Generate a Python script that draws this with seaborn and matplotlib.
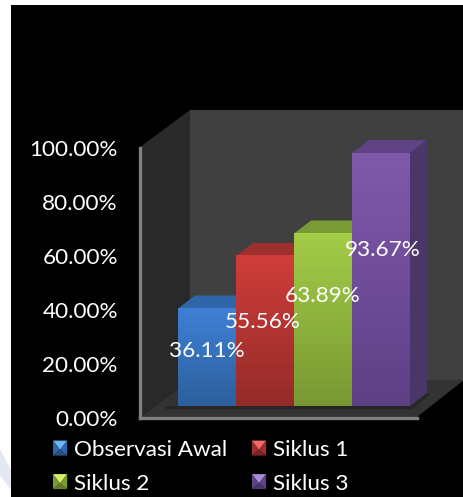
import numpy as np
import matplotlib
matplotlib.use("Agg")
import matplotlib.pyplot as plt
import seaborn as sns
from matplotlib.colors import LinearSegmentedColormap
from matplotlib.legend_handler import HandlerBase
from matplotlib.patches import Patch, Polygon, Rectangle

# --- Data ---
categories = ["Observasi Awal", "Siklus 1", "Siklus 2", "Siklus 3"]
values = [36.11, 55.56, 63.89, 93.67]
y_ticks = [0, 20, 40, 60, 80, 100]

# --- Style ---
W, H = 464, 497
FONT = "Lato"
FONT_SIZE = 16.2
top_colors = ["#3f80d6", "#d03d3a", "#a3cc48", "#8059ab"]
bottom_colors = ["#2d5f9c", "#942b29", "#789832", "#5e4085"]
roof_colors = ["#2f66a8", "#9d2f2c", "#7a9b34", "#5f4384"]
side_colors = ["#26507f", "#7c2523", "#627d2b", "#4b3669"]
light_colors = ["#6db4f2", "#f26b66", "#d8ef6a", "#a98ad6"]
label_drop = [42, 66, 63, 97]   # label centre below the bar top, px
label_shift = [0, -2, 0, 1.5]   # label centre right of the bar centre, px
DEPTH_X, DEPTH_Y = 17, 13


def px(x, y):
    return x / W, 1 - y / H


def fig_poly(fig, points, color, zorder=1):
    fig.add_artist(Polygon([px(*p) for p in points], closed=True, facecolor=color,
                           edgecolor="none", transform=fig.transFigure, zorder=zorder))


class BevelHandler(HandlerBase):
    def create_artists(self, legend, orig_handle, xdescent, ydescent, width, height, fontsize, trans):
        x0, y0 = -xdescent, -ydescent
        x1, y1 = x0 + width, y0 + height
        cx, cy = (x0 + x1) / 2, y0 + height * 0.38
        i = int(orig_handle.get_gid())
        faces = [
            ([(x0, y1), (x1, y1), (cx, cy)], light_colors[i]),
            ([(x0, y0), (x0, y1), (cx, cy)], roof_colors[i]),
            ([(x1, y0), (x1, y1), (cx, cy)], roof_colors[i]),
            ([(x0, y0), (x1, y0), (cx, cy)], side_colors[i]),
        ]
        return [Polygon(p, closed=True, facecolor=c, edgecolor="none", transform=trans) for p, c in faces]


def main():
    sns.set_theme(style="dark")
    plt.rcParams["font.family"] = [FONT, "DejaVu Sans"]

    fig = plt.figure(figsize=(W / 100, H / 100), dpi=100, facecolor="white")

    # page background: black slide on white, faint watermark on the margin
    fig.add_artist(Rectangle(px(11, H), (W - 11) / W, (H - 5) / H, facecolor="black",
                             edgecolor="none", transform=fig.transFigure, zorder=0))
    fig_poly(fig, [(0, 449), (11, 470), (11, 490), (0, 475)], "#e3e8f4", zorder=0)

    # chart walls and floor
    fig_poly(fig, [(140, 147), (190, 110), (190, 380), (140, 417)], "#292929")
    fig_poly(fig, [(190, 110), (W, 110), (W, 380), (190, 380)], "#404040")
    fig_poly(fig, [(140, 417), (190, 380), (W, 380), (417, 417)], "#333333")
    fig_poly(fig, [(165, 406), (410, 406), (427, 393), (430, 395), (412, 409), (165, 409)], "#272727")

    # front axes: carries the value ticks
    left, bottom = px(140, 418)
    ax_front = fig.add_axes([left, bottom, (417 - 140) / W, (418 - 148) / H], facecolor="none", zorder=2)
    ax_front.set_ylim(0, 100)
    ax_front.set_xticks([])
    ax_front.set_yticks(y_ticks)
    ax_front.set_yticklabels([f"{t:.2f}%" for t in y_ticks], color="white", fontsize=FONT_SIZE)
    ax_front.tick_params(axis="y", length=0, pad=16)
    ax_front.grid(False)
    for name, spine in ax_front.spines.items():
        spine.set_visible(name in ("left", "bottom"))
        spine.set_color("#808080")
        spine.set_linewidth(2.4)

    # bars sit on the floor, behind the front edge
    left, bottom = px(178, 406)
    ax = fig.add_axes([left, bottom, (410 - 178) / W, (406 - 136) / H], facecolor="none", zorder=3)
    sns.barplot(x=categories, y=values, hue=categories, palette=top_colors, width=1.0,
                legend=False, saturation=1, ax=ax)
    ax.set_xlim(-0.5, 3.5)
    ax.set_ylim(0, 100)
    ax.axis("off")

    bars = sorted((b for c in ax.containers for b in c), key=lambda b: b.get_x())
    dx = DEPTH_X / 58
    dy = DEPTH_Y / 2.7
    for i, bar in enumerate(bars):
        x0, w, h = bar.get_x(), bar.get_width(), bar.get_height()
        z = 3 + i
        ax.add_patch(Polygon([(x0, h), (x0 + dx, h + dy), (x0 + w + dx, h + dy), (x0 + w, h)],
                             facecolor=roof_colors[i], edgecolor="none", zorder=z, clip_on=False))
        ax.add_patch(Polygon([(x0 + w, 0), (x0 + w + dx, dy), (x0 + w + dx, h + dy), (x0 + w, h)],
                             facecolor=side_colors[i], edgecolor="none", zorder=z, clip_on=False))
        cmap = LinearSegmentedColormap.from_list(f"bar{i}", [top_colors[i], bottom_colors[i]])
        ax.imshow(np.linspace(0, 1, 128).reshape(-1, 1), cmap=cmap, aspect="auto",
                  extent=(x0, x0 + w, 0, h), zorder=z + 0.5)
        bar.set_visible(False)
    ax.set_xlim(-0.5, 3.5)
    ax.set_ylim(0, 100)

    for i, bar in enumerate(bars):
        ax.annotate(f"{values[i]:.2f}%", xy=(bar.get_x() + bar.get_width() / 2, values[i]),
                    xytext=(label_shift[i] * 0.72, -label_drop[i] * 0.72), textcoords="offset points",
                    ha="center", va="center", color="white", fontsize=FONT_SIZE, zorder=20,
                    annotation_clip=False)

    # legend fills column by column, the chart reads row by row
    order = [0, 2, 1, 3]
    handles = [Patch(gid=str(i), label=categories[i]) for i in order]
    fig.legend(handles=handles, labels=[categories[i] for i in order], ncol=2, loc="upper left",
               bbox_to_anchor=px(53, 440), frameon=False, fontsize=FONT_SIZE, labelcolor="white",
               handler_map={Patch: BevelHandler()}, handlelength=0.63, handleheight=0.65,
               handletextpad=0.3, columnspacing=1.1, labelspacing=0.6,
               borderpad=0, borderaxespad=0)

    fig.savefig("out.png", dpi=100, facecolor=fig.get_facecolor())


if __name__ == "__main__":
    main()
